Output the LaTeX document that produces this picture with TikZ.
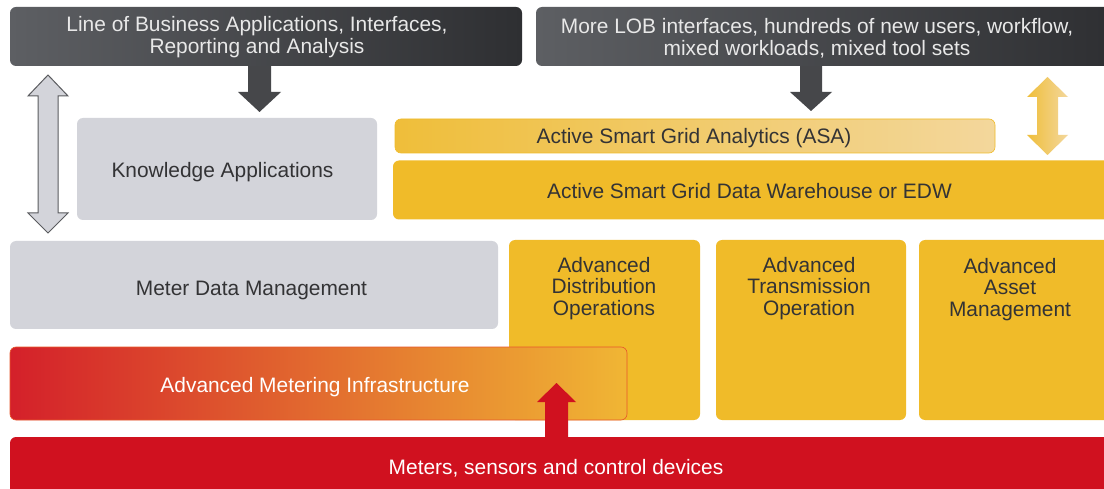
\documentclass[tikz,border=0pt]{standalone}
\usepackage{fontspec}
\setmainfont{Liberation Sans}
\definecolor{darkL}{HTML}{5D5F63}
\definecolor{darkR}{HTML}{2E2F32}
\definecolor{darkArrow}{HTML}{46474A}
\definecolor{greyBox}{HTML}{D3D4DA}
\definecolor{greyLine}{HTML}{5A5B5F}
\definecolor{yel}{HTML}{F0BB29}
\definecolor{yelL}{HTML}{F3D79C}
\definecolor{yelD}{HTML}{EFBE3A}
\definecolor{redM}{HTML}{D0111F}
\definecolor{amiL}{HTML}{D4202A}
\definecolor{amiM}{HTML}{E8762A}
\definecolor{amiR}{HTML}{F0B634}
\definecolor{amiB}{HTML}{E8562A}
\definecolor{txt}{HTML}{333335}
\definecolor{wtxt}{HTML}{E8E8E8}
\begin{document}
\begin{tikzpicture}[x=1pt,y=-1pt,
  box/.style={rectangle, rounded corners=6pt, inner sep=0pt, draw=none},
  darkbox/.style={box, left color=darkL, right color=darkR},
  greybox/.style={box, fill=greyBox},
  yelbox/.style={box, fill=yel},
  lbl/.style={inner sep=0pt, align=center, text=txt, font=\fontsize{20.9}{21.8}\selectfont},
  wlbl/.style={lbl, text=wtxt},
]
\clip (0,0) rectangle (1104,489);
\fill[white] (0,0) rectangle (1104,489);

% block arrows from the top boxes
\fill[darkArrow] (248,60) -- (271,60) -- (271,92) -- (281,92) -- (259.5,112) -- (238,92) -- (248,92) -- cycle;
\fill[darkArrow] (800,60) -- (822,60) -- (822,92) -- (832,92) -- (811,111) -- (790,92) -- (800,92) -- cycle;

% top dark boxes
\node[darkbox, minimum width=512pt, minimum height=59pt] (lob) at (266,36.5) {};
\node[wlbl] (lobt) at (257,37) {Line of Business Applications, Interfaces,\\Reporting and Analysis};
\node[darkbox, minimum width=580pt, minimum height=59pt] (more) at (826,36.5) {};
\node[wlbl] (moret) at (817,38.5) {More LOB interfaces, hundreds of new users, workflow,\\mixed workloads, mixed tool sets};

% grey double arrow
\filldraw[fill=greyBox, draw=greyLine, line width=1pt, line join=miter]
  (48,75) -- (68,96) -- (58,96) -- (58,213) -- (68,213) -- (48,233) -- (28,213) -- (38,213) -- (38,96) -- (28,96) -- cycle;

% yellow double arrow
\shade[left color=yelD, right color=yelL]
  (1047.5,77) -- (1068,97) -- (1058,97) -- (1058,135) -- (1068,135) -- (1047.5,155) -- (1027,135) -- (1037,135) -- (1037,97) -- (1027,97) -- cycle;

% knowledge applications
\node[greybox, minimum width=300pt, minimum height=102pt] (ka) at (227,169) {};
\node[lbl] (kat) at (222.5,172) {Knowledge Applications};

% ASA
\node[box, left color=yelD, right color=yelL, draw=yel, line width=0.6pt, minimum width=600pt, minimum height=34pt] (asa) at (695,136) {};
\node[lbl] (asat) at (694,138) {Active Smart Grid Analytics (ASA)};

% data warehouse
\node[yelbox, minimum width=730pt, minimum height=59pt] (dw) at (758,190) {};
\node[lbl] (dwt) at (749.5,191) {Active Smart Grid Data Warehouse or EDW};

% meter data management
\node[greybox, minimum width=488pt, minimum height=88pt] (mdm) at (254,285) {};
\node[lbl] (mdmt) at (251.5,290.5) {Meter Data Management};

% advanced operations boxes
\node[yelbox, minimum width=191pt, minimum height=180pt] (ado) at (604.5,330) {};
\node[lbl] (adot) at (604,288.5) {Advanced\\Distribution\\Operations};
\node[yelbox, minimum width=190pt, minimum height=180pt] (ato) at (811,330) {};
\node[lbl] (atot) at (809,288.5) {Advanced\\Transmission\\Operation};
\node[yelbox, minimum width=200pt, minimum height=180pt] (aam) at (1019,330) {};
\node[lbl] (aamt) at (1010,289.5) {Advanced\\Asset\\Management};

% AMI
\node[box, left color=amiL, middle color=amiM, right color=amiR, draw=amiB, line width=0.6pt, minimum width=617pt, minimum height=73pt] (ami) at (318.5,383.5) {};
\node[wlbl, text=white] (amit) at (315,387.5) {Advanced Metering Infrastructure};

% meters
\node[box, fill=redM, minimum width=1110pt, minimum height=70pt] (met) at (565,472) {};
\node[wlbl, text=white] (mett) at (556,468.5) {Meters, sensors and control devices};

% red arrow up into AMI
\fill[redM] (545,440) -- (545,402) -- (537,402) -- (556.5,383) -- (576,402) -- (568,402) -- (568,440) -- cycle;
\end{tikzpicture}
\end{document}
